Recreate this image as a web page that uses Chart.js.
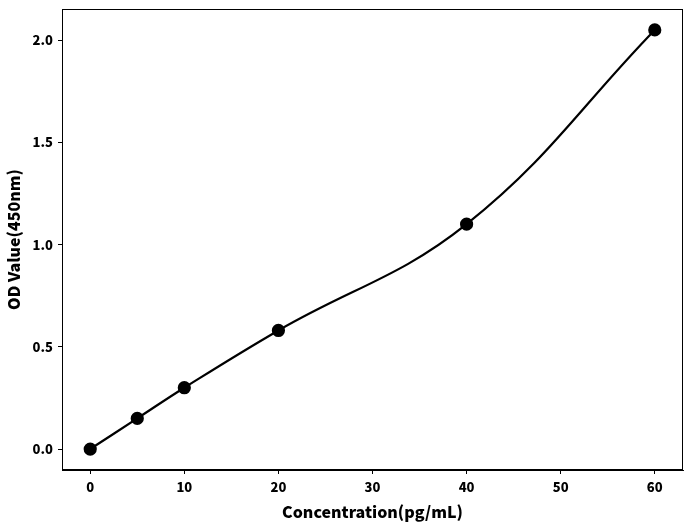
<!DOCTYPE html>
<html>
<head>
<meta charset="utf-8">
<script src="https://cdn.jsdelivr.net/npm/chart.js@4"></script>
<style>
    html, body { margin: 0; padding: 0; background: #fff; }
    #wrap { width: 692px; height: 526px; }
</style>
</head>
<body>
<div id="wrap"><canvas id="myChart"></canvas></div>
<script>
const concentrations = [0, 5, 10, 20, 40, 60];
const odValues = [0, 0.15, 0.30, 0.58, 1.10, 2.05];
const xTicks = [0, 10, 20, 30, 40, 50, 60];
const yTicks = [0.0, 0.5, 1.0, 1.5, 2.0];

const fontFamily = "'Noto Sans CJK SC', 'Noto Sans', sans-serif";

// draws the top and right edges of the plot frame
const frameBox = {
    id: "frameBox",
    afterDraw(chart) {
        const a = chart.chartArea;
        const c = chart.ctx;
        c.save();
        c.strokeStyle = "#000";
        c.lineWidth = 1;
        c.strokeRect(a.left + 0.5, a.top + 0.5, a.right - a.left - 1, a.bottom - a.top - 1);
        c.restore();
    }
};

function updateChart() {
    const ctx = document.getElementById("myChart").getContext("2d");
    new Chart(ctx, {
        type: "scatter",
        data: {
            datasets: [{
                data: concentrations.map((x, i) => ({ x: x, y: odValues[i] })),
                showLine: true,
                borderColor: "#000",
                backgroundColor: "#000",
                borderWidth: 2.2,
                pointRadius: 5.5,
                pointHoverRadius: 5.5,
                tension: 0.4
            }]
        },
        options: {
            responsive: true,
            maintainAspectRatio: false,
            animation: false,
            layout: { padding: { top: 9, right: 9, left: 0, bottom: 0 } },
            plugins: { legend: { display: false }, tooltip: { enabled: false } },
            scales: {
                x: {
                    type: "linear",
                    min: -3,
                    max: 63,
                    afterBuildTicks: s => { s.ticks = xTicks.map(v => ({ value: v })); },
                    afterFit: s => { s.height = 56; s.paddingLeft = 0; s.paddingRight = 0; },
                    grid: { drawOnChartArea: false, drawTicks: true, tickLength: 4, color: "#000" },
                    border: { display: true, color: "#000", width: 1 },
                    ticks: { color: "#000", padding: 5, font: { family: fontFamily, size: 13, weight: 900 } },
                    title: {
                        display: true,
                        text: "Concentration(pg/mL)",
                        color: "#000",
                        padding: { top: 0 },
                        font: { family: fontFamily, size: 16, weight: 900 }
                    }
                },
                y: {
                    type: "linear",
                    min: -0.1025,
                    max: 2.1525,
                    afterBuildTicks: s => { s.ticks = yTicks.map(v => ({ value: v })); },
                    afterFit: s => { s.width = 62; s.paddingTop = 0; s.paddingBottom = 0; },
                    grid: { drawOnChartArea: false, drawTicks: true, tickLength: 4, color: "#000" },
                    border: { display: true, color: "#000", width: 1 },
                    ticks: {
                        color: "#000",
                        padding: 5,
                        font: { family: fontFamily, size: 13, weight: 900 },
                        callback: v => v.toFixed(1)
                    },
                    title: {
                        display: true,
                        text: "OD Value(450nm)",
                        color: "#000",
                        padding: { bottom: 0 },
                        font: { family: fontFamily, size: 16, weight: 900 }
                    }
                }
            }
        },
        plugins: [frameBox]
    });
}

document.addEventListener("DOMContentLoaded", function () {
    updateChart();
});
</script>
</body>
</html>
